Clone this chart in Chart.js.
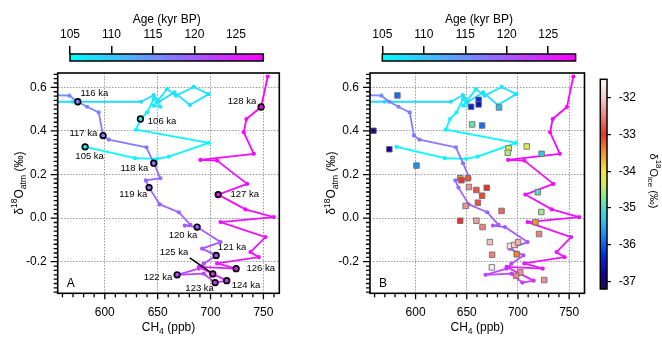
<!DOCTYPE html>
<html>
<head>
<meta charset="utf-8">
<script src="https://cdn.jsdelivr.net/npm/chart.js@4.4.0/dist/chart.umd.min.js"></script>
<style>
  html, body { margin: 0; padding: 0; background: #fff; }
  #wrap { position: relative; width: 662px; height: 338px; overflow: hidden; }
  canvas { position: absolute; top: 0; }
</style>
</head>
<body>
<div id="wrap">
  <canvas id="mainA" width="331" height="338" style="left:0"></canvas>
  <canvas id="mainB" width="292" height="338" style="left:300px"></canvas>
  <canvas id="barA" width="331" height="70" style="left:0"></canvas>
  <canvas id="barB" width="331" height="70" style="left:331px"></canvas>
  <canvas id="barIce" width="70" height="338" style="left:592px"></canvas>
</div>
<script>
// ----- data -----
const ageKa = [105.0, 105.2, 105.4, 105.6, 105.8, 105.9, 106.0, 106.2, 106.4, 106.6, 106.8, 107.0, 107.2, 107.4, 107.6, 107.8, 108.0, 108.2, 108.4, 108.6, 108.8, 109.0,
  115.3, 115.7, 116.0, 116.3, 116.6, 117.0, 117.2, 117.6, 118.0, 118.3, 118.6, 119.0, 119.3, 119.6, 119.8, 119.9, 120.0, 120.4, 120.7, 121.0, 121.3, 121.6, 122.0, 122.4, 123.0, 124.0,
  125.0, 125.3, 126.0, 126.1, 126.2, 126.3, 126.45, 126.55, 126.7, 126.85, 127.0, 127.2, 127.4, 127.5, 127.6, 127.75, 127.85, 128.0, 128.2];
const ch4Ppb = [581.4, 628.4, 649.5, 660.5, 698.3, 629.6, 633.7, 640.0, 646.3, 652.6, 646.3, 658.9, 667.4, 684.1, 698.3, 680.4, 665.9, 651.1, 646.3, 634.4, 569.7, 548.0,
  548.0, 566.6, 574.5, 583.3, 594.3, 598.4, 603.8, 639.4, 646.3, 652.6, 638.8, 641.9, 652.0, 670.0, 681.0, 675.6, 687.3, 709.4, 692.0, 705.3, 693.6, 688.9, 668.4, 693.6, 704.3, 715.3,
  702.1, 688.9, 724.2, 706.2, 745.6, 737.7, 751.9, 709.4, 759.8, 733.0, 707.2, 734.6, 706.2, 690.4, 740.9, 731.4, 733.9, 747.8, 754.1];
const d18Oatm = [0.327, 0.275, 0.272, 0.282, 0.345, 0.406, 0.455, 0.485, 0.547, 0.511, 0.516, 0.592, 0.562, 0.602, 0.569, 0.519, 0.577, 0.534, 0.565, 0.534, 0.534, 0.534,
  0.565, 0.562, 0.534, 0.511, 0.485, 0.379, 0.360, 0.325, 0.252, 0.183, 0.173, 0.140, 0.063, 0.027, -0.031, -0.034, -0.041, -0.110, -0.140, -0.171, -0.209, -0.232, -0.260, -0.255, -0.296, -0.287,
  -0.256, -0.224, -0.232, -0.208, -0.179, -0.156, -0.087, -0.018, 0.005, 0.040, 0.108, 0.157, 0.264, 0.267, 0.295, 0.394, 0.455, 0.510, 0.650];

// labelled ages in panel A
const ringAges = [105, 106, 116, 117, 118, 119, 120, 121, 122, 123, 124, 125, 126, 127, 128];
// where each "xxx ka" text starts (data units)
const labelCh4 = [572.2, 640.7, 577.0, 566.6, 614.8, 613.8, 660.5, 706.9, 636.9, 676.2, 720.0, 652.0, 733.9, 718.8, 716.3];
const labelAtm = [0.284, 0.443, 0.574, 0.391, 0.229, 0.111, -0.079, -0.136, -0.270, -0.324, -0.308, -0.159, -0.232, 0.111, 0.534];

// panel B squares
const sqCh4 = [582.3, 558.9, 574.4, 600.9, 654.3, 661.6, 661.6, 681.5, 655.3, 665.0, 690.9, 690.0, 708.6, 723.1, 643.6, 644.8, 651.2, 652.1, 659.4, 669.5, 665.0, 660.9, 648.9, 684.0, 719.4, 722.8, 643.6, 659.4, 665.4, 717.1, 720.6, 672.6, 692.2, 696.3, 700.1, 698.8, 674.8, 674.5, 702.3, 698.2, 725.7];
const sqAtm = [0.563, 0.401, 0.316, 0.241, 0.511, 0.543, 0.522, 0.508, 0.430, 0.425, 0.320, 0.300, 0.329, 0.295, 0.183, 0.174, 0.183, 0.143, 0.129, 0.139, 0.103, 0.071, 0.056, 0.033, 0.119, 0.028, -0.012, -0.012, -0.041, -0.019, -0.073, -0.110, -0.128, -0.123, -0.111, -0.166, -0.168, -0.226, -0.249, -0.264, -0.284];
const sqIce = [-35.9, -37.0, -36.8, -35.7, -36.4, -36.3, -36.6, -35.4, -34.8, -35.9, -34.2, -34.5, -34.2, -35.3, -33.5, -33.0, -33.2, -32.4, -32.8, -33.0, -33.1, -32.8, -32.4, -32.7, -35.0, -34.6, -33.0, -32.3, -32.5, -33.5, -32.5, -32.1, -31.7, -32.0, -32.2, -33.4, -32.5, -31.7, -32.4, -32.5, -32.4];

// tick labels
const ch4Ticks = [600, 650, 700, 750];
const atmTicks = [-0.2, 0.0, 0.2, 0.4, 0.6];

// ----- colour maps -----
const AGE_MIN = 105, AGE_MAX = 128.3;
function ageColor(a) {
  const t = Math.min(1, Math.max(0, (a - AGE_MIN) / (AGE_MAX - AGE_MIN)));
  return `rgb(${Math.round(255 * t)},${Math.round(255 * (1 - t))},255)`;
}
const iceStops = [
  [-37.2, [35, 10, 90]], [-36.8, [20, 0, 160]], [-36.3, [0, 40, 235]], [-35.8, [20, 130, 250]],
  [-35.3, [50, 200, 240]], [-34.8, [110, 230, 170]], [-34.4, [200, 240, 100]], [-34.0, [245, 230, 70]],
  [-33.5, [245, 150, 40]], [-33.0, [235, 50, 45]], [-32.5, [240, 130, 130]], [-32.0, [248, 205, 205]],
  [-31.5, [255, 250, 250]]
];
function iceColor(v) {
  if (v <= iceStops[0][0]) return `rgb(${iceStops[0][1].join(',')})`;
  for (let i = 1; i < iceStops.length; i++) {
    if (v <= iceStops[i][0]) {
      const [v0, c0] = iceStops[i - 1], [v1, c1] = iceStops[i];
      const t = (v - v0) / (v1 - v0);
      return `rgb(${c0.map((c, k) => Math.round(c + (c1[k] - c) * t)).join(',')})`;
    }
  }
  return `rgb(${iceStops[iceStops.length - 1][1].join(',')})`;
}

const FONT = '"Liberation Sans", Arial, Helvetica, sans-serif';
Chart.defaults.font.family = FONT;
Chart.defaults.font.size = 12;
Chart.defaults.color = '#000';

const isMajor = (v, step) => Math.abs(v / step - Math.round(v / step)) < 1e-6;

// text with super/subscripts
function richText(ctx, parts, x, y, rot, size) {
  ctx.save();
  ctx.translate(x, y);
  ctx.rotate(rot);
  ctx.textBaseline = 'middle';
  ctx.textAlign = 'left';
  let total = 0;
  parts.forEach(p => {
    ctx.font = `${p[1] ? size * 0.72 : size}px ${FONT}`;
    p.w = ctx.measureText(p[0]).width;
    total += p.w;
  });
  let cx = -total / 2;
  ctx.fillStyle = '#000';
  parts.forEach(p => {
    ctx.font = `${p[1] ? size * 0.72 : size}px ${FONT}`;
    const dy = p[1] === 'sup' ? -size * 0.4 : p[1] === 'sub' ? size * 0.32 : 0;
    ctx.fillText(p[0], cx, dy);
    cx += p.w;
  });
  ctx.restore();
}

// frame, tick marks, axis titles
const framePlugin = {
  id: 'frame',
  afterDraw(chart) {
    const { ctx, chartArea: a, scales: { x, y } } = chart;
    ctx.save();
    ctx.strokeStyle = '#000';
    ctx.lineWidth = 1.3;
    ctx.beginPath();
    x.ticks.forEach(t => {
      const px = x.getPixelForValue(t.value);
      const len = isMajor(t.value, 50) ? 6 : 4;
      ctx.moveTo(px, a.bottom); ctx.lineTo(px, a.bottom + len);
    });
    y.ticks.forEach(t => {
      const py = y.getPixelForValue(t.value);
      const len = isMajor(t.value, 0.2) ? 7 : 4;
      ctx.moveTo(a.left, py); ctx.lineTo(a.left - len, py);
    });
    ctx.stroke();
    ctx.lineWidth = 1.6;
    ctx.strokeRect(a.left, a.top, a.right - a.left, a.bottom - a.top);
    ctx.restore();
    richText(ctx, [['CH', ''], ['4', 'sub'], [' (ppb)', '']], (a.left + a.right) / 2, 328, 0, 12);
    richText(ctx, [['δ', ''], ['18', 'sup'], ['O', ''], ['atm', 'sub'], [' (‰)', '']], a.left - 38, (a.top + a.bottom) / 2, -Math.PI / 2, 12);
    ctx.save();
    ctx.font = `12px ${FONT}`;
    ctx.fillStyle = '#000';
    ctx.textBaseline = 'middle';
    ctx.fillText(chart.options.plugins.frame.letter, a.left + 9, a.bottom - 10);
    ctx.restore();
  }
};

// "xxx ka" labels and the pointer for 125 ka
const labelPlugin = {
  id: 'agelabels',
  beforeDatasetsDraw(chart) {
    const { ctx, scales: { x, y } } = chart;
    ctx.save();
    ctx.font = `9.5px ${FONT}`;
    ctx.fillStyle = '#000';
    ctx.textBaseline = 'middle';
    ringAges.forEach((a, i) => {
      ctx.fillText(a + ' ka', x.getPixelForValue(labelCh4[i]), y.getPixelForValue(labelAtm[i]));
    });
    ctx.restore();
  },
  afterDatasetsDraw(chart) {
    const { ctx, scales: { x, y } } = chart;
    ctx.save();
    ctx.strokeStyle = '#000';
    ctx.lineWidth = 1.5;
    ctx.beginPath();
    ctx.moveTo(x.getPixelForValue(680.4), y.getPixelForValue(-0.182));
    ctx.lineTo(x.getPixelForValue(699.5), y.getPixelForValue(-0.247));
    ctx.stroke();
    ctx.restore();
  }
};

function gridColor(step) {
  return c => isMajor(c.tick.value, step) ? '#9a9a9a' : 'rgba(0,0,0,0)';
}

function mainChart(id, panel, yWidth, padRight) {
  const datasets = [{
    type: 'line',
    data: ch4Ppb.map((v, i) => ({ x: v, y: d18Oatm[i] })),
    borderWidth: 1.8,
    pointRadius: 2.1,
    pointBorderWidth: 0,
    pointBackgroundColor: ageKa.map(ageColor),
    segment: { borderColor: c => ageColor((ageKa[c.p0DataIndex] + ageKa[c.p1DataIndex]) / 2) },
    tension: 0,
    order: 2
  }];
  if (panel === 'A') {
    datasets.push({
      type: 'line',
      showLine: false,
      data: ringAges.map(a => { const i = ageKa.indexOf(a); return { x: ch4Ppb[i], y: d18Oatm[i] }; }),
      pointRadius: 2.8,
      pointBorderWidth: 1.7,
      pointBorderColor: '#000',
      pointBackgroundColor: ringAges.map(ageColor),
      order: 1
    });
  } else {
    datasets.push({
      type: 'line',
      showLine: false,
      data: sqCh4.map((v, i) => ({ x: v, y: sqAtm[i] })),
      pointStyle: 'rect',
      pointRadius: 3.9,
      pointBorderWidth: 0.9,
      pointBorderColor: '#707070',
      pointBackgroundColor: sqIce.map(iceColor),
      order: 1
    });
  }
  return new Chart(document.getElementById(id), {
    type: 'line',
    data: { datasets },
    options: {
      responsive: false,
      animation: false,
      events: [],
      layout: { padding: { left: 0, right: padRight, top: 73, bottom: 0 } },
      plugins: { legend: { display: false }, tooltip: { enabled: false }, frame: { letter: panel } },
      scales: {
        x: {
          type: 'linear', min: 555.5, max: 765,
          afterFit: s => { s.height = 44.7; },
          border: { display: false, dash: [1.5, 1.5] },
          grid: { drawTicks: false, color: gridColor(50), lineWidth: 1 },
          ticks: {
            stepSize: 10, autoSkip: false, maxRotation: 0, padding: 12.5, includeBounds: false, maxTicksLimit: 100,
            callback: v => ch4Ticks.includes(Math.round(v)) && isMajor(v, 50) ? String(Math.round(v)) : ''
          }
        },
        y: {
          type: 'linear', min: -0.345, max: 0.666,
          afterFit: s => { s.width = yWidth; },
          border: { display: false, dash: [1.5, 1.5] },
          grid: { drawTicks: false, color: gridColor(0.2), lineWidth: 1 },
          ticks: {
            stepSize: 0.02, autoSkip: false, padding: 11, includeBounds: false, maxTicksLimit: 100,
            callback: v => atmTicks.some(t => Math.abs(t - v) < 1e-6) ? (Math.abs(v) < 1e-6 ? '0.0' : v.toFixed(1)) : ''
          }
        }
      }
    },
    plugins: panel === 'A' ? [framePlugin, labelPlugin] : [framePlugin]
  });
}

// ----- age colour bars -----
const ageBarPlugin = {
  id: 'ageBar',
  afterDraw(chart) {
    const { ctx, chartArea: a, scales: { x } } = chart;
    const g = ctx.createLinearGradient(a.left, 0, a.right, 0);
    g.addColorStop(0, ageColor(x.min));
    g.addColorStop(1, ageColor(x.max));
    ctx.save();
    ctx.fillStyle = g;
    ctx.fillRect(a.left, a.top, a.right - a.left, a.bottom - a.top);
    ctx.strokeStyle = '#000';
    ctx.lineWidth = 1.5;
    ctx.strokeRect(a.left, a.top, a.right - a.left, a.bottom - a.top);
    ctx.restore();
  }
};

function ageBar(id, padLeft, padRight) {
  return new Chart(document.getElementById(id), {
    type: 'scatter',
    data: { datasets: [] },
    options: {
      responsive: false, animation: false, events: [],
      layout: { padding: { left: padLeft, right: padRight, top: 0, bottom: 9 } },
      plugins: { legend: { display: false }, tooltip: { enabled: false } },
      scales: {
        x: {
          type: 'linear', position: 'top', min: AGE_MIN, max: AGE_MAX,
          afterFit: s => { s.height = 54; },
          border: { display: false },
          grid: { drawOnChartArea: false, tickLength: 8, color: '#000', lineWidth: 1.5 },
          ticks: { stepSize: 5, includeBounds: false, padding: 4, maxRotation: 0 },
          title: { display: true, text: 'Age (kyr BP)', padding: { top: 12.8, bottom: 0 } }
        },
        y: { display: false }
      }
    },
    plugins: [ageBarPlugin]
  });
}

// ----- δ18O ice colour bar -----
const iceBarPlugin = {
  id: 'iceBar',
  afterDraw(chart) {
    const { ctx, chartArea: a, scales: { y } } = chart;
    const g = ctx.createLinearGradient(0, a.bottom, 0, a.top);
    const n = 60;
    for (let i = 0; i <= n; i++) {
      g.addColorStop(i / n, iceColor(y.min + (y.max - y.min) * i / n));
    }
    ctx.save();
    ctx.fillStyle = g;
    ctx.fillRect(a.left, a.top, a.right - a.left, a.bottom - a.top);
    ctx.strokeStyle = '#000';
    ctx.lineWidth = 1.5;
    ctx.strokeRect(a.left, a.top, a.right - a.left, a.bottom - a.top);
    ctx.restore();
    richText(ctx, [['δ', ''], ['18', 'sup'], ['O', ''], ['ice', 'sub'], [' (‰)', '']], 61.5, 181, Math.PI / 2, 11);
  }
};

new Chart(document.getElementById('barIce'), {
  type: 'scatter',
  data: { datasets: [] },
  options: {
    responsive: false, animation: false, events: [],
    layout: { padding: { left: 8.3, right: 0, top: 79.3, bottom: 49 } },
    plugins: { legend: { display: false }, tooltip: { enabled: false } },
    scales: {
      x: { display: false },
      y: {
        type: 'linear', position: 'right', min: -37.2, max: -31.5,
        afterFit: s => { s.width = 55; },
        border: { display: false },
        grid: { drawOnChartArea: false, tickLength: 4, color: '#000', lineWidth: 1.2 },
        ticks: { stepSize: 1, includeBounds: false, padding: 7.7, callback: v => String(v) }
      }
    }
  },
  plugins: [iceBarPlugin]
});

mainChart('mainA', 'A', 57.7, 51.7);
mainChart('mainB', 'B', 70, 0.4);
ageBar('barA', 70, 67.7);
ageBar('barB', 51.3, 86.4);
</script>
</body>
</html>
